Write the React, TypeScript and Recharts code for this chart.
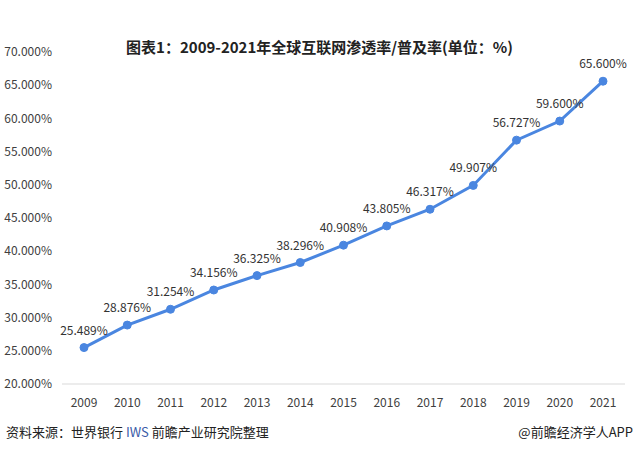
import { LineChart, Line, XAxis, YAxis, LabelList } from 'recharts';

const years = ['2009', '2010', '2011', '2012', '2013', '2014', '2015', '2016', '2017', '2018', '2019', '2020', '2021'];
const rates = [25.489, 28.876, 31.254, 34.156, 36.325, 38.296, 40.908, 43.805, 46.317, 49.907, 56.727, 59.6, 65.6];
const yTicks = [20, 25, 30, 35, 40, 45, 50, 55, 60, 65, 70];

const font = '"Noto Sans CJK SC", "Noto Sans", sans-serif';

export default function App() {
  const data = years.map((year, i) => ({ year, rate: rates[i] }));

  return (
    <div style={{ position: 'absolute', left: 0, top: 0, width: 639, height: 451, background: '#fff', fontFamily: font }}>
      <div style={{ position: 'absolute', top: 36, width: 639, textAlign: 'center', fontSize: 15, fontWeight: 'bold', color: '#222' }}>
        图表1：2009-2021年全球互联网渗透率/普及率(单位：%)
      </div>
      <LineChart width={639} height={451} data={data} margin={{ top: 52, right: 14, bottom: 37, left: 0 }}>
        <XAxis
          dataKey="year"
          height={30}
          padding={{ left: 22, right: 22 }}
          tickLine={false}
          axisLine={{ stroke: '#d9d9d9' }}
          tick={{ fill: '#404040', fontSize: 12, fontFamily: font }}
          tickMargin={8}
        />
        <YAxis
          width={62}
          domain={[20, 70]}
          ticks={yTicks}
          axisLine={false}
          tickLine={false}
          tick={{ fill: '#404040', fontSize: 12, fontFamily: font }}
          tickFormatter={(v: number) => v.toFixed(3) + '%'}
          tickMargin={4}
        />
        <Line
          type="linear"
          dataKey="rate"
          stroke="#4a86e0"
          strokeWidth={3}
          dot={{ r: 4, fill: '#4a86e0', stroke: '#4a86e0', strokeWidth: 1 }}
          isAnimationActive={false}
        >
          <LabelList
            dataKey="rate"
            position="top"
            offset={13}
            formatter={(v: number) => v.toFixed(3) + '%'}
            style={{ fill: '#333', fontSize: 12, fontFamily: font }}
          />
        </Line>
      </LineChart>
      <div style={{ position: 'absolute', top: 422, left: 6, fontSize: 13, color: '#222' }}>
        资料来源：世界银行 <span style={{ color: '#3a5ba8' }}>IWS</span> 前瞻产业研究院整理
      </div>
      <div style={{ position: 'absolute', top: 422, right: 6, fontSize: 13, color: '#222' }}>
        @前瞻经济学人APP
      </div>
    </div>
  );
}
